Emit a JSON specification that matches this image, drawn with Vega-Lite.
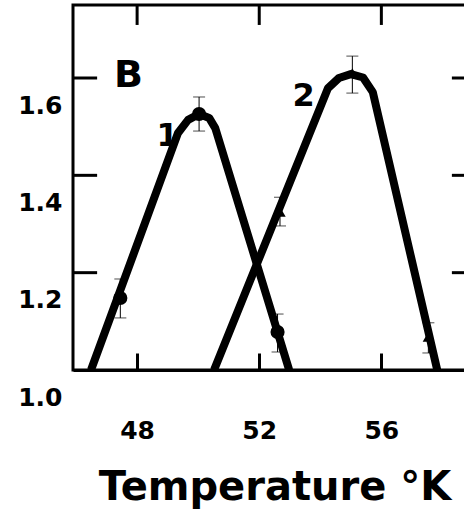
{
  "$schema": "https://vega.github.io/schema/vega-lite/v6.json",
  "width": 403,
  "height": 365,
  "autosize": {"type": "none"},
  "padding": {"left": 73, "top": 5, "right": 0, "bottom": 144},
  "background": "white",
  "config": {
    "view": {"stroke": "black", "strokeWidth": 3},
    "font": "DejaVu Sans"
  },
  "datasets": {
    "curves": [
      {"series": "1", "temp": 46.49, "value": 1.0},
      {"series": "1", "temp": 49.34, "value": 1.487},
      {"series": "1", "temp": 49.67, "value": 1.514},
      {"series": "1", "temp": 50.03, "value": 1.526},
      {"series": "1", "temp": 50.36, "value": 1.518},
      {"series": "1", "temp": 50.56, "value": 1.497},
      {"series": "1", "temp": 52.98, "value": 1.0},
      {"series": "2", "temp": 50.52, "value": 1.0},
      {"series": "2", "temp": 54.25, "value": 1.579},
      {"series": "2", "temp": 54.61, "value": 1.6},
      {"series": "2", "temp": 55.0, "value": 1.608},
      {"series": "2", "temp": 55.4, "value": 1.601},
      {"series": "2", "temp": 55.72, "value": 1.571},
      {"series": "2", "temp": 57.83, "value": 1.0}
    ],
    "obs": [
      {"series": "1", "temp": 47.45, "value": 1.148, "lo": 1.107, "hi": 1.187},
      {"series": "1", "temp": 50.03, "value": 1.526, "lo": 1.491, "hi": 1.561},
      {"series": "1", "temp": 52.6, "value": 1.078, "lo": 1.037, "hi": 1.115},
      {"series": "2", "temp": 52.68, "value": 1.325, "lo": 1.296, "hi": 1.355},
      {"series": "2", "temp": 55.05, "value": 1.61, "lo": 1.569, "hi": 1.645},
      {"series": "2", "temp": 57.54, "value": 1.068, "lo": 1.035, "hi": 1.097}
    ],
    "labels": [
      {"label": "B", "kind": "panel", "temp": 47.72, "value": 1.604},
      {"label": "1", "kind": "curve", "temp": 49.0, "value": 1.48},
      {"label": "2", "kind": "curve", "temp": 53.45, "value": 1.563}
    ],
    "frameTicks": [
      {"edge": "y", "at": 1.2},
      {"edge": "y", "at": 1.4},
      {"edge": "y", "at": 1.6},
      {"edge": "x", "at": 48},
      {"edge": "x", "at": 52},
      {"edge": "x", "at": 56}
    ]
  },
  "layer": [
    {
      "data": {"name": "curves"},
      "mark": {"type": "line", "color": "black", "strokeWidth": 8, "strokeJoin": "round", "clip": true},
      "encoding": {
        "x": {
          "field": "temp", "type": "quantitative",
          "scale": {"domain": [45.9, 59.1], "nice": false, "zero": false},
          "axis": {
            "orient": "bottom", "values": [48, 52, 56], "grid": false,
            "domainColor": "black", "domainWidth": 3,
            "tickSize": -17, "tickWidth": 3, "tickColor": "black",
            "labelFont": "DejaVu Sans", "labelFontWeight": "bold", "labelFontSize": 25,
            "labelColor": "black", "labelPadding": 85, "labelBaseline": "alphabetic", "labelFlush": false,
            "title": "Temperature °K", "titleFont": "DejaVu Sans", "titleFontWeight": "bold",
            "titleFontSize": 40, "titleColor": "black", "titleY": 129, "titleBaseline": "alphabetic"
          }
        },
        "y": {
          "field": "value", "type": "quantitative",
          "scale": {"domain": [1.0, 1.75], "nice": false, "zero": false},
          "axis": {
            "orient": "left", "values": [1.0, 1.2, 1.4, 1.6], "format": ".1f", "grid": false,
            "domain": false, "ticks": false,
            "labelFont": "DejaVu Sans", "labelFontWeight": "bold", "labelFontSize": 25,
            "labelColor": "black", "labelPadding": 11, "labelOffset": 27,
            "labelBaseline": "middle", "labelFlush": false, "title": null
          }
        },
        "detail": {"field": "series"}
      }
    },
    {
      "data": {"name": "frameTicks"},
      "transform": [{"filter": "datum.edge === 'y'"}],
      "mark": {"type": "rule", "color": "black", "strokeWidth": 3},
      "encoding": {
        "y": {"field": "at", "type": "quantitative"},
        "x": {"datum": 45.9, "type": "quantitative"},
        "x2": {"datum": 46.69}
      }
    },
    {
      "data": {"name": "frameTicks"},
      "transform": [{"filter": "datum.edge === 'y'"}],
      "mark": {"type": "rule", "color": "black", "strokeWidth": 3},
      "encoding": {
        "y": {"field": "at", "type": "quantitative"},
        "x": {"datum": 58.31, "type": "quantitative"},
        "x2": {"datum": 59.1}
      }
    },
    {
      "data": {"name": "frameTicks"},
      "transform": [{"filter": "datum.edge === 'x'"}],
      "mark": {"type": "rule", "color": "black", "strokeWidth": 3},
      "encoding": {
        "x": {"field": "at", "type": "quantitative"},
        "y": {"datum": 1.709, "type": "quantitative"},
        "y2": {"datum": 1.75}
      }
    },
    {
      "data": {"name": "obs"},
      "mark": {"type": "rule", "color": "black", "strokeWidth": 1},
      "encoding": {
        "x": {"field": "temp", "type": "quantitative"},
        "y": {"field": "lo", "type": "quantitative"},
        "y2": {"field": "hi"}
      }
    },
    {
      "data": {"name": "obs"},
      "mark": {"type": "tick", "orient": "horizontal", "color": "black", "size": 12, "thickness": 1},
      "encoding": {
        "x": {"field": "temp", "type": "quantitative"},
        "y": {"field": "lo", "type": "quantitative"}
      }
    },
    {
      "data": {"name": "obs"},
      "mark": {"type": "tick", "orient": "horizontal", "color": "black", "size": 12, "thickness": 1},
      "encoding": {
        "x": {"field": "temp", "type": "quantitative"},
        "y": {"field": "hi", "type": "quantitative"}
      }
    },
    {
      "data": {"name": "obs"},
      "transform": [{"filter": "datum.series === '1'"}],
      "mark": {"type": "point", "shape": "circle", "filled": true, "color": "black", "opacity": 1, "size": 200},
      "encoding": {
        "x": {"field": "temp", "type": "quantitative"},
        "y": {"field": "value", "type": "quantitative"}
      }
    },
    {
      "data": {"name": "obs"},
      "transform": [{"filter": "datum.series === '2'"}],
      "mark": {"type": "point", "shape": "triangle-up", "filled": true, "color": "black", "opacity": 1, "size": 130},
      "encoding": {
        "x": {"field": "temp", "type": "quantitative"},
        "y": {"field": "value", "type": "quantitative"}
      }
    },
    {
      "data": {"name": "labels"},
      "transform": [{"filter": "datum.kind === 'panel'"}],
      "mark": {"type": "text", "font": "DejaVu Sans", "fontWeight": "bold", "fontSize": 38, "color": "black", "align": "center", "baseline": "middle"},
      "encoding": {
        "x": {"field": "temp", "type": "quantitative"},
        "y": {"field": "value", "type": "quantitative"},
        "text": {"field": "label"}
      }
    },
    {
      "data": {"name": "labels"},
      "transform": [{"filter": "datum.kind === 'curve'"}],
      "mark": {"type": "text", "font": "DejaVu Sans", "fontWeight": "bold", "fontSize": 32, "color": "black", "align": "center", "baseline": "middle"},
      "encoding": {
        "x": {"field": "temp", "type": "quantitative"},
        "y": {"field": "value", "type": "quantitative"},
        "text": {"field": "label"}
      }
    }
  ]
}
